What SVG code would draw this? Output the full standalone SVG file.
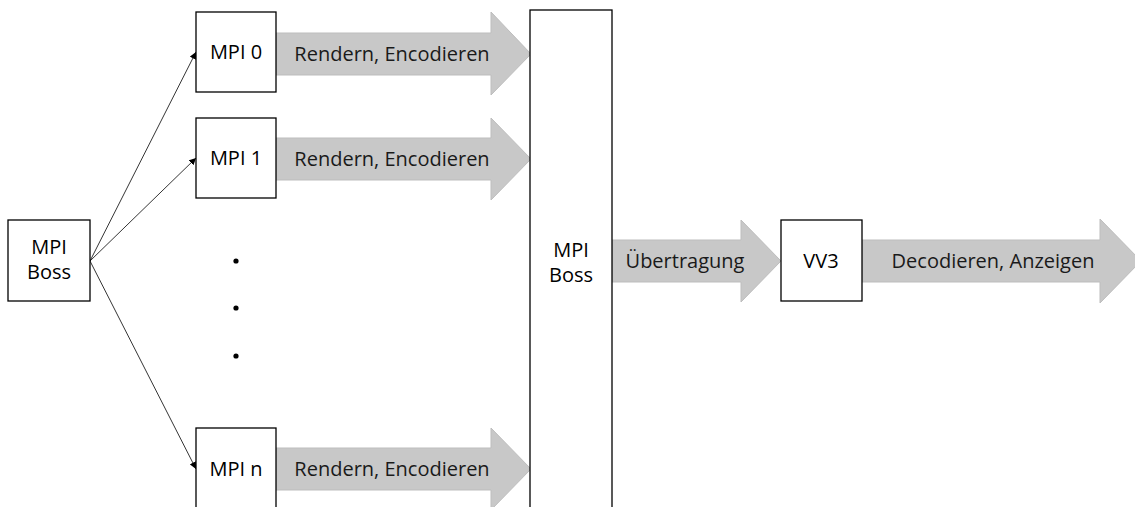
<svg xmlns="http://www.w3.org/2000/svg" width="1135" height="507" viewBox="0 0 1135 507">
<style>
.box{fill:#fff;stroke:#000;stroke-width:1.3}
.arr{fill:#c8c8c8;stroke:#bdbdbd;stroke-width:1}
.t{font-family:"Open Sans","Liberation Sans",sans-serif;font-size:20px;fill:#000;text-anchor:middle}
.t2{font-family:"Open Sans","Liberation Sans",sans-serif;font-size:20px;fill:#1a1a1a;text-anchor:middle}
.c{stroke:#000;stroke-width:0.8;fill:none;marker-end:url(#ah)}
</style>
<defs>
<marker id="ah" viewBox="0 0 10 10" refX="10" refY="5" markerWidth="7" markerHeight="7" markerUnits="userSpaceOnUse" orient="auto">
<path d="M0,0 L10,5 L0,10 z" fill="#000"/>
</marker>
</defs>
<rect width="1135" height="507" fill="#fff"/>
<g id="connectors">
<line class="c" x1="90" y1="261" x2="196" y2="52"/>
<line class="c" x1="90" y1="261" x2="196" y2="158"/>
<line class="c" x1="90" y1="261" x2="196" y2="469"/>
</g>
<g id="arrow0"><polygon class="arr" points="276,33 491,33 491,12 531,54 491,95 491,75 276,75"/><text class="t2" x="392" y="61">Rendern, Encodieren</text></g>
<g id="arrow1"><polygon class="arr" points="276,138 491,138 491,118 531,159 491,200 491,180 276,180"/><text class="t2" x="392" y="166">Rendern, Encodieren</text></g>
<g id="arrown"><polygon class="arr" points="276,448 491,448 491,428 531,469 491,510 491,490 276,490"/><text class="t2" x="392" y="476">Rendern, Encodieren</text></g>
<g id="arrowU"><polygon class="arr" points="612,240 741,240 741,220 781,261 741,302 741,282 612,282"/><text class="t2" x="685" y="268">Übertragung</text></g>
<g id="arrowD"><polygon class="arr" points="862,240 1100,240 1100,219 1141,261 1100,303 1100,282 862,282"/><text class="t2" x="993" y="268">Decodieren, Anzeigen</text></g>
<g id="boss-left"><rect class="box" x="8" y="220" width="82" height="81"/><text class="t" x="49" y="254">MPI</text><text class="t" x="49" y="279">Boss</text></g>
<g id="mpi0"><rect class="box" x="196" y="12" width="80" height="80"/><text class="t" x="236" y="59">MPI 0</text></g>
<g id="mpi1"><rect class="box" x="196" y="118" width="80" height="80"/><text class="t" x="236" y="165">MPI 1</text></g>
<g id="mpin"><rect class="box" x="196" y="428" width="80" height="90"/><text class="t" x="236" y="476">MPI n</text></g>
<g id="dots" fill="#000"><circle cx="236" cy="261" r="2.6"/><circle cx="236" cy="308" r="2.6"/><circle cx="236" cy="356" r="2.6"/></g>
<g id="boss-right"><rect class="box" x="530" y="10" width="82" height="510"/><text class="t" x="571" y="257">MPI</text><text class="t" x="571" y="282">Boss</text></g>
<g id="vv3"><rect class="box" x="781" y="220" width="81" height="81"/><text class="t" x="821" y="268">VV3</text></g>
</svg>
